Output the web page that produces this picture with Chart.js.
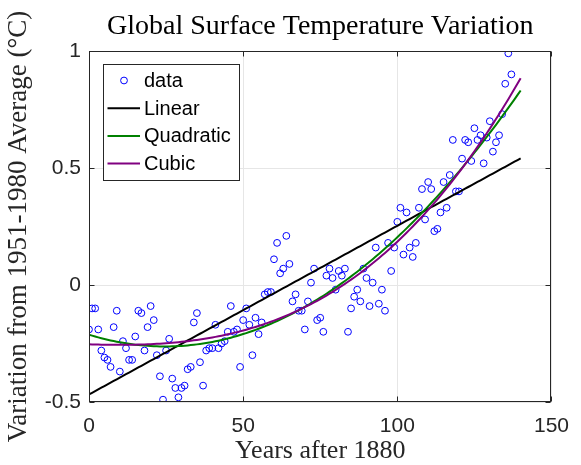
<!DOCTYPE html>
<html>
<head>
<meta charset="utf-8">
<script src="https://cdn.jsdelivr.net/npm/chart.js@4.4.1/dist/chart.umd.min.js"></script>
<style>
  html, body { margin: 0; padding: 0; background: #fff; }
  #wrap { width: 581px; height: 465px; }
</style>
</head>
<body>
<div id="wrap"><canvas id="chart" width="581" height="465"></canvas></div>
<script>
// ─── DATA ────────────────────────────────────────────────────
const yearsAfter1880 = [
    0, 1, 2, 3, 4, 5, 6, 7, 8, 9, 10, 11, 12, 13, 14, 15, 16, 17, 18, 19,
    20, 21, 22, 23, 24, 25, 26, 27, 28, 29, 30, 31, 32, 33, 34, 35, 36, 37, 38, 39,
    40, 41, 42, 43, 44, 45, 46, 47, 48, 49, 50, 51, 52, 53, 54, 55, 56, 57, 58, 59,
    60, 61, 62, 63, 64, 65, 66, 67, 68, 69, 70, 71, 72, 73, 74, 75, 76, 77, 78, 79,
    80, 81, 82, 83, 84, 85, 86, 87, 88, 89, 90, 91, 92, 93, 94, 95, 96, 97, 98, 99,
    100, 101, 102, 103, 104, 105, 106, 107, 108, 109, 110, 111, 112, 113, 114, 115, 116, 117, 118, 119,
    120, 121, 122, 123, 124, 125, 126, 127, 128, 129, 130, 131, 132, 133, 134, 135, 136, 137
];
const anomaly = [
    -0.19, -0.10, -0.10, -0.19, -0.28, -0.31, -0.32, -0.35, -0.18, -0.11,
    -0.37, -0.24, -0.27, -0.32, -0.32, -0.22, -0.11, -0.12, -0.28, -0.18,
    -0.09, -0.15, -0.30, -0.39, -0.49, -0.28, -0.23, -0.40, -0.44, -0.48,
    -0.44, -0.43, -0.36, -0.35, -0.16, -0.12, -0.33, -0.43, -0.28, -0.27,
    -0.27, -0.17, -0.27, -0.25, -0.24, -0.20, -0.09, -0.20, -0.19, -0.35,
    -0.15, -0.10, -0.17, -0.30, -0.14, -0.21, -0.16, -0.04, -0.03, -0.03,
     0.11,  0.18,  0.05,  0.07,  0.21,  0.09, -0.07, -0.04, -0.11, -0.11,
    -0.19, -0.07,  0.01,  0.07, -0.15, -0.14, -0.20,  0.04,  0.07,  0.03,
    -0.02,  0.06,  0.04,  0.07, -0.20, -0.10, -0.05, -0.02, -0.07,  0.07,
     0.03, -0.09,  0.01,  0.16, -0.08, -0.02, -0.11,  0.18,  0.06,  0.16,
     0.27,  0.33,  0.13,  0.31,  0.16,  0.12,  0.18,  0.33,  0.41,  0.28,
     0.44,  0.41,  0.23,  0.24,  0.31,  0.44,  0.33,  0.47,  0.62,  0.40,
     0.40,  0.54,  0.62,  0.61,  0.53,  0.67,  0.62,  0.64,  0.52,  0.63,
     0.70,  0.57,  0.61,  0.64,  0.73,  0.86,  0.99,  0.90
];
const xTicks = [0, 50, 100, 150];
const yTicks = [-0.5, 0, 0.5, 1];
const fitNames  = ['Linear', 'Quadratic', 'Cubic'];
const fitOrders = [1, 2, 3];
const fitEnd = 140;
const chartTitle = 'Global Surface Temperature Variation';

const AXIS = '#262626';
const SERIF = '"Liberation Serif", "Times New Roman", serif';
const SANS  = '"Liberation Sans", Arial, sans-serif';

// ─── POLYNOMIAL FIT (least squares, x scaled for stability) ──
function polyfit(xs, ys, n) {
    const s = 100;
    const m = n + 1;
    const A = Array.from({ length: m }, () => new Array(m + 1).fill(0));
    xs.forEach((xv, k) => {
        const t = xv / s;
        for (let i = 0; i < m; i++) {
            for (let j = 0; j < m; j++) A[i][j] += Math.pow(t, i + j);
            A[i][m] += ys[k] * Math.pow(t, i);
        }
    });
    for (let c = 0; c < m; c++) {
        let p = c;
        for (let r = c + 1; r < m; r++) if (Math.abs(A[r][c]) > Math.abs(A[p][c])) p = r;
        [A[c], A[p]] = [A[p], A[c]];
        for (let r = 0; r < m; r++) {
            if (r === c) continue;
            const f = A[r][c] / A[c][c];
            for (let j = c; j <= m; j++) A[r][j] -= f * A[c][j];
        }
    }
    const coef = A.map((row, i) => row[m] / row[i]);
    return xv => coef.reduce((acc, cf, i) => acc + cf * Math.pow(xv / s, i), 0);
}

function fitLine(order) {
    const f = polyfit(yearsAfter1880, anomaly, order);
    const pts = [];
    for (let xv = 0; xv <= fitEnd; xv++) pts.push({ x: xv, y: f(xv) });
    return pts;
}

// ─── PLUGINS: title over plot, box, inward ticks, legend ─────
const plotTitle = {
    id: 'plotTitle',
    afterDraw(chart) {
        const { ctx, chartArea: a } = chart;
        ctx.save();
        ctx.font = '28px ' + SERIF;
        ctx.fillStyle = '#000';
        ctx.textAlign = 'center';
        ctx.textBaseline = 'middle';
        ctx.fillText(chartTitle, (a.left + a.right) / 2, 27);
        ctx.restore();
    }
};

const frame = {
    id: 'frame',
    afterDatasetsDraw(chart) {
        const { ctx, chartArea: a, scales: { x, y } } = chart;
        ctx.save();
        ctx.strokeStyle = AXIS;
        ctx.lineWidth = 1;
        const L = Math.round(a.left) + 0.5, R = Math.round(a.right) - 0.5;
        const T = Math.round(a.top) + 0.5, B = Math.round(a.bottom) - 0.5;
        ctx.strokeRect(L, T, R - L, B - T);
        ctx.beginPath();
        xTicks.forEach(v => {
            const px = Math.round(x.getPixelForValue(v)) + 0.5;
            ctx.moveTo(px, B); ctx.lineTo(px, B - 5);
            ctx.moveTo(px, T); ctx.lineTo(px, T + 5);
        });
        yTicks.forEach(v => {
            const py = Math.round(y.getPixelForValue(v)) + 0.5;
            ctx.moveTo(L, py); ctx.lineTo(L + 5, py);
            ctx.moveTo(R, py); ctx.lineTo(R - 5, py);
        });
        ctx.stroke();
        ctx.restore();
    }
};

const boxLegend = {
    id: 'boxLegend',
    afterDraw(chart) {
        const { ctx } = chart;
        const left = 103.5, top = 64.5, right = 239.5, bottom = 180.5;
        ctx.save();
        ctx.fillStyle = '#fff';
        ctx.fillRect(left, top, right - left, bottom - top);
        ctx.strokeStyle = AXIS;
        ctx.lineWidth = 1;
        ctx.strokeRect(left, top, right - left, bottom - top);
        ctx.font = '20px ' + SANS;
        ctx.textBaseline = 'middle';
        chart.data.datasets.forEach((ds, i) => {
            const cy = 80.5 + i * 27.7;
            ctx.strokeStyle = ds.borderColor;
            ctx.beginPath();
            if (ds.showLine) {
                ctx.lineWidth = 2;
                ctx.moveTo(107.5, cy); ctx.lineTo(140, cy);
            } else {
                ctx.lineWidth = 1;
                ctx.arc(124, cy, 3.4, 0, Math.PI * 2);
            }
            ctx.stroke();
            ctx.fillStyle = '#000';
            ctx.fillText(ds.label, 144, cy + 1);
        });
        ctx.restore();
    }
};

// ─── CHART ───────────────────────────────────────────────────
const fitColors = ['#000000', '#008000', '#800080'];
const datasets = [{
    label: 'data',
    data: yearsAfter1880.map((xv, i) => ({ x: xv, y: anomaly[i] })),
    showLine: false,
    pointStyle: 'circle',
    pointRadius: 3.4,
    pointBorderWidth: 1,
    borderColor: '#0000ff',
    backgroundColor: 'rgba(0,0,0,0)',
    order: 4
}];
fitNames.forEach((name, i) => {
    datasets.push({
        label: name,
        data: fitLine(fitOrders[i]),
        showLine: true,
        borderColor: fitColors[i],
        borderWidth: 2,
        pointRadius: 0,
        tension: 0,
        order: 3 - i
    });
});

new Chart(document.getElementById('chart'), {
    type: 'scatter',
    data: { datasets },
    options: {
        responsive: false,
        animation: false,
        layout: { padding: { left: 0, right: 21, top: 51, bottom: 0 } },
        plugins: {
            legend: { display: false },
            tooltip: { enabled: false },
            title: { display: false }
        },
        scales: {
            x: {
                type: 'linear',
                min: 0, max: 150,
                afterBuildTicks: s => { s.ticks = xTicks.map(v => ({ value: v })); },
                afterFit: s => { s.height = 63; },
                grid: { color: '#e6e6e6', drawTicks: false },
                border: { display: false },
                ticks: { color: AXIS, font: { family: SANS, size: 21 }, padding: 12, maxRotation: 0,
                         callback: v => String(v) },
                title: {
                    display: true,
                    text: 'Years after 1880',
                    color: AXIS,
                    font: { family: SERIF, size: 26, lineHeight: 1.05 },
                    padding: { top: 0, bottom: 0 }
                }
            },
            y: {
                type: 'linear',
                min: -0.5, max: 1,
                afterBuildTicks: s => { s.ticks = yTicks.map(v => ({ value: v })); },
                afterFit: s => { s.width = 89; },
                grid: { color: '#e6e6e6', drawTicks: false },
                border: { display: false },
                ticks: { color: AXIS, font: { family: SANS, size: 21 }, padding: 8,
                         callback: v => String(v) },
                title: {
                    display: true,
                    text: 'Variation from 1951-1980 Average (°C)',
                    color: AXIS,
                    font: { family: SERIF, size: 27, lineHeight: 1.2 },
                    padding: { top: 3, bottom: 0 }
                }
            }
        }
    },
    plugins: [frame, boxLegend, plotTitle]
});
</script>
</body>
</html>
